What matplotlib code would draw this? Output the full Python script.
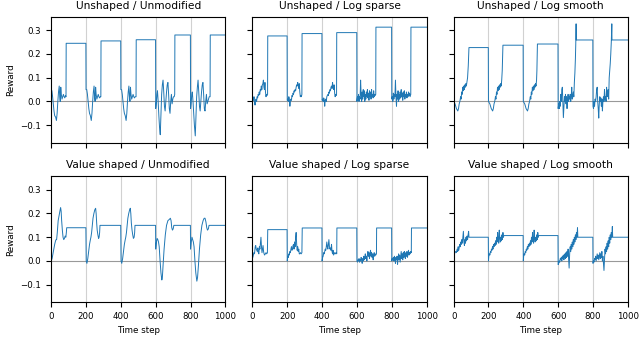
import matplotlib
matplotlib.use("Agg")
import matplotlib.pyplot as plt

# ---- data: (time step, reward) keypoints ----
titles = ["Unshaped / Unmodified", "Unshaped / Log sparse", "Unshaped / Log smooth",
          "Value shaped / Unmodified", "Value shaped / Log sparse", "Value shaped / Log smooth"]

unshaped_unmodified = [
    (0, 0.05), (4, 0.045), (8, 0.02), (12, -0.01), (16, -0.04), (20, -0.06), (25, -0.065), (30, -0.08),
    (34, -0.05), (38, 0.0), (42, 0.04), (46, 0.065), (49, 0.02), (52, 0.0), (55, 0.06), (58, 0.03),
    (62, 0.01), (66, 0.02), (70, 0.03), (74, 0.02), (78, 0.015), (82, 0.025), (85, 0.02), (86, 0.245), (199, 0.245),
    (200, 0.05), (204, 0.05), (208, 0.03), (212, 0.0), (216, -0.03), (220, -0.05), (225, -0.06), (230, -0.08),
    (234, -0.05), (238, 0.0), (242, 0.04), (246, 0.065), (249, 0.02), (252, 0.0), (255, 0.06), (258, 0.03),
    (262, 0.01), (266, 0.02), (270, 0.03), (274, 0.02), (278, 0.015), (282, 0.02), (285, 0.02), (286, 0.255), (399, 0.255),
    (400, 0.05), (404, 0.05), (408, 0.03), (412, 0.0), (416, -0.03), (420, -0.05), (425, -0.06), (430, -0.08),
    (434, -0.05), (438, 0.0), (442, 0.04), (446, 0.065), (449, 0.02), (452, 0.0), (455, 0.06), (458, 0.03),
    (462, 0.01), (466, 0.02), (470, 0.03), (474, 0.02), (478, 0.015), (482, 0.02), (487, 0.02), (488, 0.26), (599, 0.26),
    (600, -0.03), (603, -0.01), (607, 0.03), (610, 0.045), (614, 0.0), (618, -0.06), (622, -0.11), (626, -0.14),
    (630, -0.05), (634, 0.03), (638, 0.07), (642, 0.09), (646, 0.04), (650, -0.02), (654, -0.04), (658, 0.0),
    (662, 0.04), (666, 0.07), (670, 0.08), (674, 0.03), (678, -0.03), (682, -0.05), (686, 0.0), (690, 0.03),
    (694, -0.01), (698, 0.01), (702, 0.02), (706, 0.02), (709, 0.03), (710, 0.28), (799, 0.28),
    (800, -0.03), (803, -0.01), (807, 0.03), (810, 0.04), (814, 0.0), (818, -0.05), (822, -0.1), (827, -0.145),
    (831, -0.06), (835, 0.02), (839, 0.06), (843, 0.09), (847, 0.04), (851, -0.02), (855, -0.04), (859, 0.0),
    (863, 0.04), (867, 0.07), (871, 0.08), (875, 0.03), (879, -0.03), (883, -0.04), (887, 0.0), (891, 0.03),
    (895, -0.01), (899, 0.0), (903, 0.01), (907, 0.02), (912, 0.02), (913, 0.28), (1000, 0.28),
]

unshaped_log_sparse = [
    (0, 0.01), (3, 0.015), (6, 0.005), (9, 0.02), (12, 0.0), (15, -0.015), (18, 0.005), (21, 0.01), (24, 0.0),
    (27, 0.02), (30, 0.015), (33, 0.03), (36, 0.025), (39, 0.04), (42, 0.03), (45, 0.05), (48, 0.045),
    (51, 0.065), (54, 0.05), (57, 0.07), (60, 0.075), (63, 0.09), (66, 0.06), (69, 0.05), (72, 0.08),
    (75, 0.04), (78, 0.02), (81, 0.03), (84, 0.025), (87, 0.03), (88, 0.276), (199, 0.276),
    (200, 0.005), (203, 0.01), (206, 0.0), (209, 0.02), (212, 0.01), (215, -0.02), (218, 0.0), (221, 0.01),
    (224, 0.005), (227, 0.025), (230, 0.02), (233, 0.035), (236, 0.03), (239, 0.045), (242, 0.04), (245, 0.05),
    (248, 0.045), (251, 0.06), (254, 0.07), (257, 0.065), (260, 0.08), (263, 0.07), (266, 0.055), (269, 0.075),
    (272, 0.04), (275, 0.02), (278, 0.025), (281, 0.02), (284, 0.03), (285, 0.286), (399, 0.286),
    (400, 0.005), (403, 0.01), (406, 0.0), (409, 0.015), (412, 0.01), (415, -0.02), (418, 0.005), (421, 0.01),
    (424, 0.0), (427, 0.02), (430, 0.025), (433, 0.03), (436, 0.025), (439, 0.04), (442, 0.035), (445, 0.05),
    (448, 0.045), (451, 0.06), (454, 0.065), (457, 0.055), (460, 0.08), (463, 0.06), (466, 0.05), (469, 0.07),
    (472, 0.035), (475, 0.02), (478, 0.03), (481, 0.025), (483, 0.03), (484, 0.29), (599, 0.29),
    (600, 0.0), (603, 0.02), (606, 0.005), (609, 0.03), (612, 0.0), (615, 0.02), (618, 0.01), (621, 0.09),
    (624, 0.03), (627, 0.0), (630, 0.04), (633, 0.01), (636, 0.05), (639, 0.02), (642, 0.045), (645, 0.0),
    (648, 0.03), (651, 0.01), (654, 0.04), (657, 0.02), (660, 0.05), (663, 0.015), (666, 0.035), (669, 0.005),
    (672, 0.045), (675, 0.02), (678, 0.04), (681, 0.01), (684, 0.05), (687, 0.02), (690, 0.03), (693, 0.015),
    (696, 0.045), (699, 0.02), (702, 0.03), (705, 0.025), (708, 0.03), (709, 0.313), (799, 0.313),
    (800, 0.01), (803, 0.02), (806, 0.0), (809, 0.035), (812, 0.01), (815, 0.03), (818, 0.02), (821, 0.09),
    (824, 0.02), (827, -0.02), (830, 0.03), (833, 0.01), (836, 0.045), (839, 0.0), (842, 0.03), (845, 0.01),
    (848, 0.04), (851, 0.015), (854, 0.05), (857, 0.02), (860, 0.035), (863, 0.005), (866, 0.04), (869, 0.02),
    (872, 0.045), (875, 0.01), (878, 0.03), (881, 0.02), (884, 0.04), (887, 0.015), (890, 0.03), (893, 0.02),
    (896, 0.04), (899, 0.025), (902, 0.035), (905, 0.02), (909, 0.03), (910, 0.313), (1000, 0.313),
]

unshaped_log_smooth = [
    (0, 0.0), (4, -0.005), (8, -0.01), (12, -0.02), (16, -0.03), (20, -0.035), (24, -0.04), (28, -0.03),
    (32, -0.01), (36, 0.0), (40, 0.02), (43, 0.01), (46, 0.04), (49, 0.03), (52, 0.06), (55, 0.045),
    (58, 0.065), (61, 0.05), (64, 0.07), (67, 0.06), (70, 0.075), (73, 0.065), (76, 0.08), (80, 0.1),
    (84, 0.15), (87, 0.2), (88, 0.227), (199, 0.227),
    (200, 0.0), (204, -0.005), (208, -0.01), (212, -0.02), (216, -0.03), (220, -0.035), (224, -0.04), (228, -0.03),
    (232, -0.01), (236, 0.0), (240, 0.02), (243, 0.01), (246, 0.04), (249, 0.03), (252, 0.06), (255, 0.045),
    (258, 0.065), (261, 0.05), (264, 0.07), (267, 0.06), (270, 0.075), (273, 0.065), (276, 0.09), (279, 0.13),
    (282, 0.2), (283, 0.237), (399, 0.237),
    (400, 0.0), (404, -0.005), (408, -0.01), (412, -0.02), (416, -0.03), (420, -0.035), (424, -0.04), (428, -0.03),
    (432, -0.01), (436, 0.0), (440, 0.02), (443, 0.01), (446, 0.04), (449, 0.03), (452, 0.06), (455, 0.045),
    (458, 0.065), (461, 0.05), (464, 0.07), (467, 0.06), (470, 0.075), (473, 0.065), (476, 0.09), (478, 0.13),
    (480, 0.2), (481, 0.242), (599, 0.242),
    (600, -0.03), (603, -0.01), (606, -0.03), (609, 0.0), (612, -0.02), (615, 0.03), (618, 0.0), (621, 0.05),
    (624, 0.06), (627, 0.0), (630, -0.068), (633, -0.02), (636, 0.02), (639, 0.0), (642, 0.03), (645, -0.01),
    (648, 0.02), (651, -0.03), (654, 0.01), (657, 0.03), (660, 0.0), (663, 0.02), (666, 0.01), (669, 0.03),
    (672, 0.0), (675, 0.02), (678, 0.06), (681, 0.01), (684, 0.02), (687, 0.04), (690, 0.02), (693, 0.08),
    (696, 0.12), (699, 0.18), (701, 0.24), (703, 0.327), (704, 0.259), (799, 0.259),
    (800, -0.02), (803, -0.03), (806, 0.0), (809, -0.02), (812, 0.01), (815, 0.0), (818, 0.02), (821, 0.05),
    (824, 0.06), (827, 0.0), (830, -0.03), (833, -0.07), (836, -0.01), (839, 0.02), (842, 0.0), (845, 0.015),
    (848, -0.02), (851, 0.01), (854, -0.04), (857, 0.0), (860, 0.02), (863, 0.0), (866, 0.05), (869, 0.01),
    (872, 0.02), (875, 0.0), (878, 0.06), (881, 0.02), (884, 0.03), (887, 0.05), (890, 0.01), (893, 0.1),
    (896, 0.13), (899, 0.16), (902, 0.2), (905, 0.25), (908, 0.327), (909, 0.259), (1000, 0.259),
]

value_unmodified = [
    (0, 0.0), (5, 0.01), (10, 0.03), (15, 0.05), (20, 0.07), (25, 0.085), (28, 0.09), (31, 0.09),
    (35, 0.12), (40, 0.17), (45, 0.19), (50, 0.21), (54, 0.225), (57, 0.21), (60, 0.17), (64, 0.13),
    (68, 0.1), (72, 0.09), (76, 0.095), (80, 0.105), (84, 0.1), (87, 0.12), (89, 0.14), (199, 0.14),
    (201, 0.0), (205, -0.01), (210, 0.01), (215, 0.04), (220, 0.07), (225, 0.09), (228, 0.1), (232, 0.12),
    (236, 0.15), (240, 0.18), (245, 0.2), (250, 0.215), (255, 0.222), (258, 0.2), (261, 0.16), (264, 0.13),
    (268, 0.11), (272, 0.095), (275, 0.1), (278, 0.12), (280, 0.15), (399, 0.15),
    (401, 0.0), (405, -0.01), (410, 0.01), (415, 0.04), (420, 0.07), (425, 0.09), (428, 0.1), (432, 0.12),
    (436, 0.15), (440, 0.18), (445, 0.2), (450, 0.215), (454, 0.222), (457, 0.2), (460, 0.16), (464, 0.13),
    (468, 0.11), (472, 0.095), (476, 0.1), (479, 0.12), (481, 0.15), (599, 0.15),
    (600, 0.05), (604, 0.08), (608, 0.095), (612, 0.09), (616, 0.08), (620, 0.06), (625, 0.0), (630, -0.05),
    (635, -0.08), (638, -0.07), (642, -0.02), (648, 0.05), (655, 0.11), (662, 0.15), (670, 0.17), (678, 0.175),
    (684, 0.18), (688, 0.17), (692, 0.14), (696, 0.13), (700, 0.135), (704, 0.15), (799, 0.15),
    (800, 0.05), (804, 0.08), (808, 0.1), (812, 0.09), (816, 0.08), (820, 0.06), (825, 0.0), (830, -0.05),
    (836, -0.085), (840, -0.07), (845, -0.02), (851, 0.05), (858, 0.11), (865, 0.15), (872, 0.17), (878, 0.18),
    (883, 0.18), (888, 0.165), (893, 0.14), (897, 0.13), (902, 0.135), (906, 0.15), (1000, 0.15),
]

value_log_sparse = [
    (0, 0.01), (4, 0.02), (8, 0.035), (12, 0.03), (16, 0.06), (19, 0.065), (22, 0.05), (25, 0.045),
    (28, 0.04), (31, 0.055), (34, 0.035), (37, 0.03), (40, 0.06), (43, 0.05), (46, 0.075), (49, 0.1),
    (52, 0.06), (55, 0.035), (58, 0.05), (61, 0.065), (64, 0.04), (67, 0.03), (70, 0.025), (74, 0.03),
    (78, 0.035), (82, 0.03), (86, 0.035), (88, 0.132), (199, 0.132),
    (200, 0.0), (203, 0.02), (206, 0.015), (209, 0.03), (212, 0.025), (215, 0.04), (218, 0.035), (221, 0.05),
    (224, 0.06), (227, 0.045), (230, 0.05), (233, 0.065), (236, 0.07), (239, 0.05), (242, 0.08), (245, 0.06),
    (248, 0.1), (251, 0.12), (254, 0.07), (257, 0.045), (260, 0.06), (263, 0.04), (266, 0.05), (269, 0.03),
    (272, 0.03), (276, 0.035), (280, 0.03), (284, 0.035), (286, 0.139), (399, 0.139),
    (400, 0.0), (403, 0.015), (406, 0.02), (409, 0.035), (412, 0.03), (415, 0.04), (418, 0.05), (421, 0.045),
    (424, 0.06), (427, 0.08), (430, 0.06), (433, 0.05), (436, 0.07), (439, 0.09), (442, 0.06), (445, 0.05),
    (448, 0.055), (451, 0.045), (454, 0.07), (457, 0.04), (460, 0.03), (463, 0.045), (466, 0.025), (469, 0.03),
    (472, 0.035), (476, 0.03), (480, 0.035), (484, 0.03), (485, 0.139), (599, 0.139),
    (600, 0.0), (603, -0.005), (606, 0.005), (609, 0.0), (612, 0.01), (615, -0.005), (618, 0.005), (621, 0.0),
    (624, 0.015), (627, 0.005), (630, -0.01), (633, 0.01), (636, 0.0), (639, 0.02), (642, 0.005), (645, 0.015),
    (648, 0.03), (651, 0.01), (654, 0.02), (657, 0.0), (660, 0.025), (663, 0.04), (666, 0.02), (669, 0.035),
    (672, 0.01), (675, 0.03), (678, 0.045), (681, 0.02), (684, 0.035), (687, 0.015), (690, 0.03), (693, 0.005),
    (696, 0.025), (699, 0.035), (702, 0.02), (705, 0.03), (708, 0.025), (712, 0.03), (713, 0.139), (799, 0.139),
    (800, 0.0), (803, 0.01), (806, 0.005), (809, 0.015), (812, 0.0), (815, 0.02), (818, 0.01), (821, -0.01),
    (824, 0.015), (827, 0.005), (830, 0.02), (833, -0.015), (836, 0.01), (839, 0.03), (842, 0.005), (845, 0.025),
    (848, -0.005), (851, 0.02), (854, 0.04), (857, 0.01), (860, 0.03), (863, 0.005), (866, 0.035), (869, 0.015),
    (872, 0.04), (875, 0.02), (878, 0.01), (881, 0.035), (884, 0.02), (887, 0.04), (890, 0.015), (893, 0.03),
    (896, 0.045), (899, 0.025), (902, 0.035), (905, 0.03), (908, 0.04), (912, 0.035), (913, 0.139), (1000, 0.139),
]

value_log_smooth = [
    (0, 0.025), (4, 0.03), (8, 0.035), (12, 0.04), (16, 0.035), (20, 0.05), (23, 0.04), (26, 0.06),
    (29, 0.045), (32, 0.055), (35, 0.07), (38, 0.06), (41, 0.08), (44, 0.07), (47, 0.09), (50, 0.075),
    (53, 0.1), (56, 0.125), (59, 0.08), (62, 0.065), (65, 0.09), (68, 0.075), (71, 0.1), (74, 0.085),
    (77, 0.105), (80, 0.09), (83, 0.11), (86, 0.125), (88, 0.1), (199, 0.1),
    (200, 0.0), (202, 0.02), (205, 0.03), (208, 0.025), (211, 0.04), (214, 0.035), (217, 0.05), (220, 0.045),
    (223, 0.06), (226, 0.05), (229, 0.07), (232, 0.06), (235, 0.075), (238, 0.065), (241, 0.085), (244, 0.07),
    (247, 0.1), (250, 0.08), (253, 0.12), (256, 0.09), (259, 0.075), (262, 0.13), (265, 0.095), (268, 0.08),
    (271, 0.1), (274, 0.085), (277, 0.11), (280, 0.09), (283, 0.12), (286, 0.1), (288, 0.107), (399, 0.107),
    (400, 0.0), (402, 0.02), (405, 0.03), (408, 0.025), (411, 0.04), (414, 0.035), (417, 0.05), (420, 0.045),
    (423, 0.06), (426, 0.05), (429, 0.07), (432, 0.06), (435, 0.075), (438, 0.065), (441, 0.085), (444, 0.07),
    (447, 0.1), (450, 0.08), (453, 0.12), (456, 0.09), (459, 0.075), (462, 0.13), (465, 0.095), (468, 0.08),
    (471, 0.1), (474, 0.085), (477, 0.11), (480, 0.09), (483, 0.12), (486, 0.1), (488, 0.107), (599, 0.107),
    (600, -0.015), (603, -0.01), (606, 0.0), (609, -0.005), (612, 0.01), (615, 0.005), (618, 0.015), (621, 0.0),
    (624, 0.02), (627, 0.01), (630, 0.025), (633, 0.005), (636, 0.02), (639, 0.03), (642, 0.01), (645, 0.035),
    (648, 0.015), (651, 0.04), (654, 0.02), (657, 0.05), (660, 0.01), (663, -0.03), (666, 0.03), (669, 0.06),
    (672, 0.04), (675, 0.07), (678, 0.05), (681, 0.08), (684, 0.06), (687, 0.09), (690, 0.07), (693, 0.1),
    (696, 0.08), (699, 0.11), (702, 0.09), (705, 0.12), (708, 0.1), (711, 0.14), (713, 0.1), (799, 0.1),
    (800, -0.01), (803, 0.0), (806, -0.005), (809, 0.01), (812, 0.005), (815, 0.02), (818, 0.0), (821, 0.015),
    (824, 0.03), (827, 0.01), (830, 0.025), (833, 0.005), (836, 0.02), (839, 0.035), (842, 0.01), (845, 0.03),
    (848, 0.015), (851, 0.04), (854, 0.0), (857, 0.02), (860, -0.01), (863, -0.04), (866, 0.01), (869, 0.05),
    (872, 0.03), (875, 0.06), (878, 0.04), (881, 0.075), (884, 0.05), (887, 0.085), (890, 0.06), (893, 0.1),
    (896, 0.075), (899, 0.11), (902, 0.09), (905, 0.12), (908, 0.1), (911, 0.145), (913, 0.1), (1000, 0.1),
]

series = [unshaped_unmodified, unshaped_log_sparse, unshaped_log_smooth,
          value_unmodified, value_log_sparse, value_log_smooth]

episode_bounds = [200, 400, 600, 800]
x_ticks = [0, 200, 400, 600, 800, 1000]
y_ticks = [-0.1, 0.0, 0.1, 0.2, 0.3]

# ---- plot ----
plt.rcParams['font.size'] = 6.2

fig, axes = plt.subplots(2, 3, figsize=(6.4, 3.39), dpi=100, sharex=True, sharey=True)
fig.subplots_adjust(left=0.08, right=0.981, top=0.95, bottom=0.109, wspace=0.155, hspace=0.27)

for ax, title, pts in zip(axes.flat, titles, series):
    xs = [p[0] for p in pts]
    ys = [p[1] for p in pts]
    for b in episode_bounds:
        ax.axvline(b, color='0.82', lw=0.8, zorder=0)
    ax.axhline(0, color='0.6', lw=0.8, zorder=0)
    ax.plot(xs, ys, color='#1f77b4', lw=0.7)
    ax.set_title(title, fontsize=7.7)
    ax.tick_params(labelsize=6.2)

axes[0, 0].set_xlim(0, 1000)
axes[0, 0].set_ylim(-0.173, 0.356)
axes[0, 0].set_xticks(x_ticks)
axes[0, 0].set_yticks(y_ticks)

for ax in axes[:, 0]:
    ax.set_ylabel("Reward", fontsize=6.3)
for ax in axes[1, :]:
    ax.set_xlabel("Time step", fontsize=6.3)

fig.savefig("out.png", dpi=100)
